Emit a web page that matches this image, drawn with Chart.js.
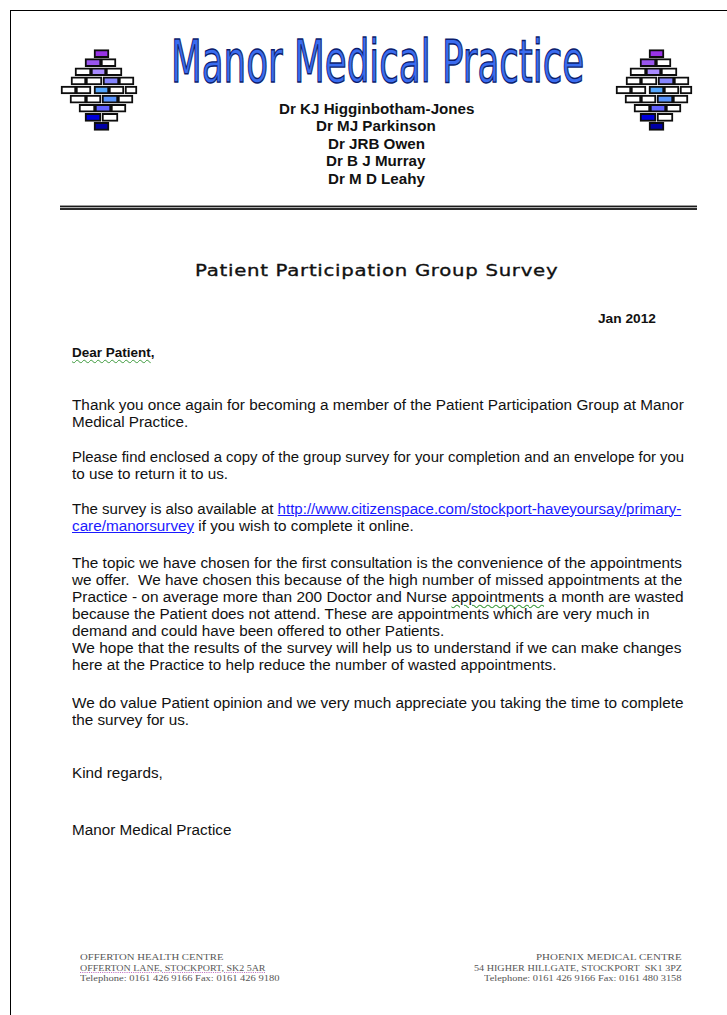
<!DOCTYPE html>
<html><head><meta charset="utf-8">
<script src="https://cdn.jsdelivr.net/npm/chart.js@4.4.1/dist/chart.umd.min.js"></script>
<style>
html,body{margin:0;padding:0;background:#fff;}
body{width:727px;height:1015px;position:relative;overflow:hidden;font-family:"Liberation Sans",Arial,sans-serif;color:#000;}
#frame{position:absolute;left:10px;top:10px;width:800px;height:1100px;border-left:1px solid #000;border-top:1px solid #000;}
.logo{position:absolute;top:50px;}
.t{position:absolute;white-space:nowrap;width:max-content;transform-origin:0 0;}
.title{font-family:"DejaVu Sans",sans-serif;font-size:58px;line-height:58px;color:#3a6cf0;-webkit-text-stroke:1.4px #0b1d6e;}
.doc{font-weight:bold;font-size:14px;line-height:17px;color:#111;}
.body{font-size:14px;line-height:17px;color:#111;}
.foot{font-family:"Liberation Serif",serif;font-size:9px;line-height:10px;color:#555;}
a{color:#1a1aff;text-decoration:underline;}
.wavy{text-decoration:underline wavy #3c9a3c;text-decoration-thickness:1px;text-underline-offset:2px;}
.dots{text-decoration:underline dotted #c070c0;text-underline-offset:1px;}
.rule{position:absolute;left:60px;width:637px;}
</style>
</head><body>
<div id="frame"></div>
<canvas id="logoL" class="logo" width="84" height="82" style="left:54px;top:49px"></canvas>
<canvas id="logoR" class="logo" width="84" height="82" style="left:609px;top:49px"></canvas>

<div class="t title" data-x="377.5" data-a="c" data-w="413" data-y="62">Manor Medical Practice</div>

<div class="t doc" data-x="376" data-a="c" data-w="195" data-g="doc" data-y="109">Dr KJ Higginbotham-Jones</div>
<div class="t doc" data-x="376" data-a="c" data-g="doc" data-y="126.5">Dr MJ Parkinson</div>
<div class="t doc" data-x="376" data-a="c" data-g="doc" data-y="144">Dr JRB Owen</div>
<div class="t doc" data-x="376" data-a="c" data-g="doc" data-y="161.5">Dr B J Murray</div>
<div class="t doc" data-x="376" data-a="c" data-g="doc" data-y="179">Dr M D Leahy</div>

<div class="rule" style="top:205px;height:1px;background:#9a9a9a"></div>
<div class="rule" style="top:206px;height:1px;background:#1a1a1a"></div>
<div class="rule" style="top:207px;height:1px;background:#b0b0b0"></div>
<div class="rule" style="top:208px;height:2px;background:#2a2a2a"></div>

<div class="t" id="survey" style="font-family:'DejaVu Sans',sans-serif;font-size:16.5px;line-height:20px;letter-spacing:0.6px;color:#111;-webkit-text-stroke:0.35px #111" data-x="376.5" data-a="c" data-w="363" data-y="271">Patient Participation Group Survey</div>

<div class="t doc" style="font-size:13px" data-x="656" data-a="r" data-w="58" data-y="318">Jan 2012</div>
<div class="t doc" style="font-size:13.5px" data-x="72" data-a="l" data-w="83" data-y="352"><span class="wavy">Dear&nbsp;Patient</span>,</div>

<div class="t body" data-x="72" data-a="l" data-w="612" data-g="body" data-y="405">Thank you once again for becoming a member of the Patient Participation Group at Manor</div>
<div class="t body" data-x="72" data-a="l" data-g="body" data-y="422">Medical Practice.</div>

<div class="t body" data-x="72" data-a="l" data-w="612" data-g="body" data-y="457">Please find enclosed a copy of the group survey for your completion and an envelope for you</div>
<div class="t body" data-x="72" data-a="l" data-g="body" data-y="474">to use to return it to us.</div>

<div class="t body" data-x="72" data-a="l" data-w="609" data-g="body" data-y="509">The survey is also available at <a>http://www.citizenspace.com/stockport-haveyoursay/primary-</a></div>
<div class="t body" data-x="72" data-a="l" data-g="body" data-y="526"><a>care/manorsurvey</a> if you wish to complete it online.</div>

<div class="t body" data-x="72" data-a="l" data-w="610" data-g="body" data-y="563">The topic we have chosen for the first consultation is the convenience of the appointments</div>
<div class="t body" data-x="72" data-a="l" data-w="610" data-g="body" data-y="580">we offer.&nbsp; We have chosen this because of the high number of missed appointments at the</div>
<div class="t body" data-x="72" data-a="l" data-w="612" data-g="body" data-y="597">Practice - on average more than 200 Doctor and Nurse <span class="wavy">appointments</span> a month are wasted</div>
<div class="t body" data-x="72" data-a="l" data-g="body" data-y="614">because the Patient does not attend. These are appointments which are very much in</div>
<div class="t body" data-x="72" data-a="l" data-g="body" data-y="631">demand and could have been offered to other Patients.</div>
<div class="t body" data-x="72" data-a="l" data-w="610" data-g="body" data-y="648">We hope that the results of the survey will help us to understand if we can make changes</div>
<div class="t body" data-x="72" data-a="l" data-g="body" data-y="665">here at the Practice to help reduce the number of wasted appointments.</div>

<div class="t body" data-x="72" data-a="l" data-w="612" data-g="body" data-y="703">We do value Patient opinion and we very much appreciate you taking the time to complete</div>
<div class="t body" data-x="72" data-a="l" data-g="body" data-y="720">the survey for us.</div>

<div class="t body" data-x="72" data-a="l" data-g="body" data-y="773">Kind regards,</div>
<div class="t body" data-x="72" data-a="l" data-g="body" data-y="830">Manor Medical Practice</div>

<div class="t foot" data-x="80" data-a="l" data-w="143" data-y="957">OFFERTON HEALTH CENTRE</div>
<div class="t foot" data-x="80" data-a="l" data-w="185" data-y="967.5"><span class="dots">OFFERTON LANE, STOCKPORT, SK2 5AR</span></div>
<div class="t foot" data-x="80" data-a="l" data-w="200" data-y="978">Telephone: 0161 426 9166 Fax: 0161 426 9180</div>
<div class="t foot" data-x="682" data-a="r" data-w="146" data-y="957">PHOENIX MEDICAL CENTRE</div>
<div class="t foot" data-x="682" data-a="r" data-w="208" data-y="967.5">54 HIGHER HILLGATE, STOCKPORT&nbsp; SK1 3PZ</div>
<div class="t foot" data-x="682" data-a="r" data-w="198" data-y="978">Telephone: 0161 426 9166 Fax: 0161 480 3158</div>

<script>
// ---- Logo data: brick courses (rows) of the practice logo, x in px units from logo left ----
const logoRows = ['c1','c2','c3','c4','c5','c6','c7','c8','c9'];
const brickSlot0 = [[39,54],[30,46],[20,36],[16,31],[6,21],[15,31],[24,40],[30,46],[39,54]];
const brickSlot1 = [null,[46,61],[36,51],[31,47],[21,36],[31,46],[40,56],[47,63],null];
const brickSlot2 = [null,null,[51,67],[48,64],[39,54],[47,63],[56,71],null,null];
const brickSlot3 = [null,null,null,[64,79],[54,69],[63,78],null,null,null];
const brickSlot4 = [null,null,null,null,[70,82],null,null,null,null];
const colorSlot  = [0,0,1,2,2,2,1,0,0];
const rowColors  = ['#9933e6','#9a55ee','#a98bff','#8686ff','#55a8ff','#5a96ff','#6262ff','#0000dd','#0000a6'];

function makeLogo(id){
  const slots=[brickSlot0,brickSlot1,brickSlot2,brickSlot3,brickSlot4];
  new Chart(document.getElementById(id),{
    type:'bar',
    data:{labels:logoRows,datasets:slots.map((d,i)=>({
      data:d, grouped:false, barThickness:8, borderWidth:2, borderColor:'#0d0d0d',
      borderSkipped:false,
      backgroundColor:ctx=>colorSlot[ctx.dataIndex]===i?rowColors[ctx.dataIndex]:'#ffffff'
    }))},
    options:{indexAxis:'y',responsive:false,animation:false,events:[],
      layout:{padding:0},
      plugins:{legend:{display:false},tooltip:{enabled:false}},
      scales:{x:{type:'linear',min:-1,max:83,display:false},y:{display:false}}}
  });
}
makeLogo('logoL');
makeLogo('logoR');

// ---- text layout fitting ----
function layout(){
  const els=[...document.querySelectorAll('.t')];
  const groups={};
  els.forEach(el=>{
    const w=el.offsetWidth;
    if(el.dataset.w){
      const s=+el.dataset.w/w; el._s=s;
      const g=el.dataset.g; if(g){(groups[g]=groups[g]||[]).push(s);}
    }
  });
  els.forEach(el=>{
    const w=el.offsetWidth;
    let s=el._s;
    if(s===undefined){
      const g=el.dataset.g;
      if(g&&groups[g]){s=groups[g].reduce((a,b)=>a+b,0)/groups[g].length;} else s=1;
    }
    const W=w*s, x=+el.dataset.x, a=el.dataset.a;
    const left=a==='c'?x-W/2:(a==='r'?x-W:x);
    const lh=parseFloat(getComputedStyle(el).lineHeight);
    el.style.left=left+'px';
    el.style.top=(+el.dataset.y - lh/2)+'px';
    el.style.transform='scaleX('+s+')';
  });
}
layout();
</script>
</body></html>
